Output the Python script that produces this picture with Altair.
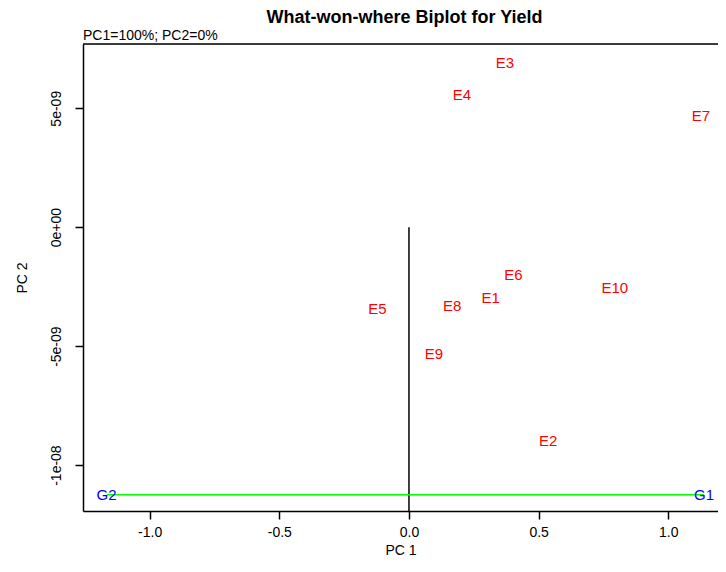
import altair as alt
import pandas as pd

# Environment (red) labels
env_names = ["E1", "E2", "E3", "E4", "E5", "E6", "E7", "E8", "E9", "E10"]
env_pc1 = [0.315, 0.537, 0.370, 0.204, -0.122, 0.403, 1.126, 0.167, 0.096, 0.794]
env_pc2 = [-2.98e-9, -8.98e-9, 6.89e-9, 5.55e-9, -3.46e-9, -1.99e-9, 4.66e-9, -3.31e-9, -5.34e-9, -2.55e-9]

# Genotype (blue) labels
gen_names = ["G1", "G2"]
gen_pc1 = [1.138, -1.166]
gen_pc2 = [-1.125e-8, -1.125e-8]

# Axis settings
x_domain = [-1.257, 1.1917]
y_domain = [-1.193e-8, 7.70e-9]
x_ticks = [-1.0, -0.5, 0.0, 0.5, 1.0]
y_ticks = [5e-9, 0.0, -5e-9, -1e-8]
y_tick_labels = ["5e-09", "0e+00", "-5e-09", "-1e-08"]

FONT = "Liberation Sans"
W, H = 635, 467

env_df = pd.DataFrame({"name": env_names, "pc1": env_pc1, "pc2": env_pc2})
gen_df = pd.DataFrame({"name": gen_names, "pc1": gen_pc1, "pc2": gen_pc2})
seg_df = pd.DataFrame({"x1": [gen_pc1[1]], "x2": [gen_pc1[0]], "y": [gen_pc2[0]]})
origin_df = pd.DataFrame({"x": [0.0], "y1": [0.0], "y2": [y_domain[0]]})

# y label expression built from the tick lists
expr = "''"
for v, lab in zip(y_ticks, y_tick_labels):
    expr = f"abs(datum.value - ({v})) < 1e-12 ? '{lab}' : ({expr})"

xscale = alt.Scale(domain=x_domain, nice=False, zero=False)
yscale = alt.Scale(domain=y_domain, nice=False, zero=False)

xaxis = alt.Axis(
    values=x_ticks, title="PC 1", grid=False,
    labelExpr="replace(format(datum.value, '.1f'), '\u2212', '-')",
    tickSize=8, tickColor="black", tickWidth=1.5,
    domainColor="black", domainWidth=1.5,
    labelFont=FONT, labelFontSize=14, labelColor="black", labelPadding=6,
    titleFont=FONT, titleFontSize=14, titleFontWeight="normal", titleColor="black",
    titlePadding=4,
)
yaxis = alt.Axis(
    values=y_ticks, title="PC 2", grid=False, labelExpr=expr,
    labelAngle=270, tickSize=8, tickColor="black", tickWidth=1.5,
    domainColor="black", domainWidth=1.5,
    labelFont=FONT, labelFontSize=14, labelColor="black", labelPadding=12,
    titleFont=FONT, titleFontSize=14, titleFontWeight="normal", titleColor="black",
    titlePadding=20,
)

base_axes = alt.Chart(origin_df).mark_rule(color="black", strokeWidth=1.5).encode(
    x=alt.X("x:Q", scale=xscale, axis=xaxis),
    y=alt.Y("y1:Q", scale=yscale, axis=yaxis),
    y2="y2:Q",
)

green = alt.Chart(seg_df).mark_rule(color="#00ff00", strokeWidth=1.5).encode(
    x="x1:Q", x2="x2:Q", y="y:Q"
)

env_text = alt.Chart(env_df).mark_text(
    font=FONT, fontSize=15, color="#ff0000", align="center", baseline="middle"
).encode(x="pc1:Q", y="pc2:Q", text="name:N")

gen_text = alt.Chart(gen_df).mark_text(
    font=FONT, fontSize=15, color="#0000ff", align="center", baseline="middle"
).encode(x="pc1:Q", y="pc2:Q", text="name:N")

top_border = alt.Chart(origin_df).mark_rule(color="black", strokeWidth=1.5).encode(
    x=alt.value(0), x2=alt.value(W), y=alt.value(0)
)

subtitle = alt.Chart(origin_df).mark_text(
    font=FONT, fontSize=14, color="black", align="left", baseline="alphabetic"
).encode(x=alt.value(0), y=alt.value(-4), text=alt.value("PC1=100%; PC2=0%"))

chart = alt.layer(base_axes, green, env_text, gen_text, top_border, subtitle).properties(
    width=W, height=H,
    title=alt.TitleParams(
        "What-won-where Biplot for Yield", font=FONT, fontSize=18, fontWeight="bold",
        color="black", anchor="middle", frame="group", offset=2, dx=4,
    ),
    autosize=alt.AutoSizeParams(type="none"),
    padding={"left": 75, "top": 36, "right": 0, "bottom": 49},
).configure_view(stroke=None).configure(background="white")

chart.save("out.html", embed_options={"renderer": "svg", "actions": False})
